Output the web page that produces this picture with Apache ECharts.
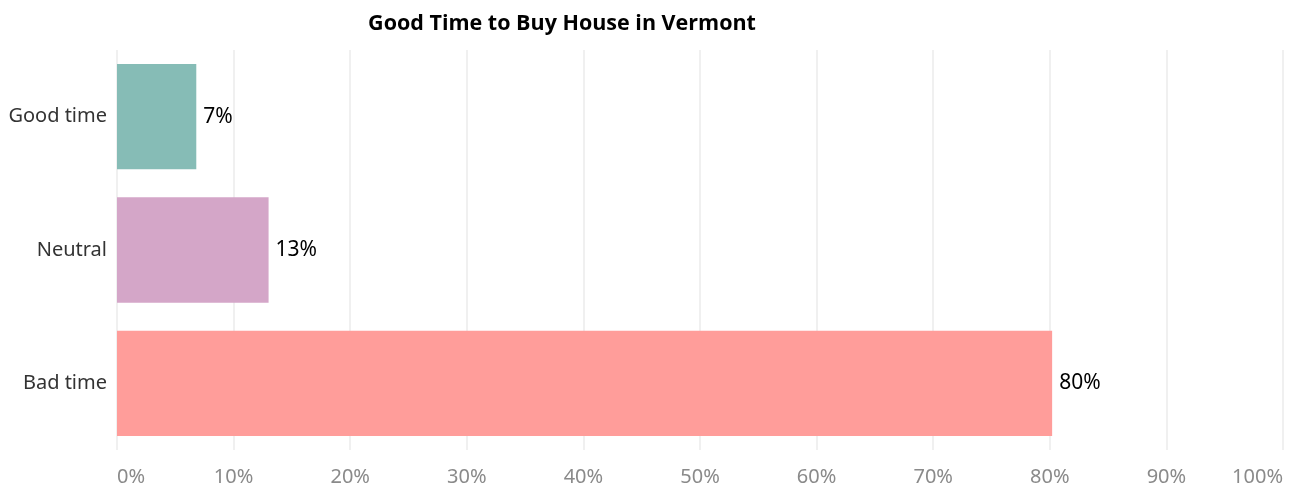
<!DOCTYPE html>
<html>
<head>
<meta charset="utf-8">
<script src="https://cdn.jsdelivr.net/npm/echarts@6/dist/echarts.min.js"></script>
<style>html,body{margin:0;padding:0;background:#fff;}#c{width:1295px;height:487px;}</style>
</head>
<body>
<div id="c"></div>
<script>
const categories = ['Good time', 'Neutral', 'Bad time'];
const values = [6.8, 13.0, 80.2];
const barColors = ['#86bcb6', '#d4a6c8', '#ff9d9a'];
const xTicks = [0, 10, 20, 30, 40, 50, 60, 70, 80, 90, 100];
const titleText = 'Good Time to Buy House in Vermont';

const chart = echarts.init(document.getElementById('c'), null, {renderer: 'canvas'});
chart.setOption({
  animation: false,
  backgroundColor: '#fff',
  title: {
    text: titleText,
    left: 557, top: 8, textAlign: 'center',
    textStyle: {fontFamily: 'Open Sans', fontWeight: 'bold', fontSize: 21.5, color: '#000'}
  },
  grid: {left: 117, right: 12, top: 50, bottom: 37, containLabel: false},
  xAxis: {
    type: 'value', min: xTicks[0], max: xTicks[xTicks.length - 1], interval: 10,
    axisLine: {show: false}, axisTick: {show: false},
    splitLine: {show: true, lineStyle: {color: '#ebebeb', width: 1.5}},
    axisLabel: {
      formatter: v => v + '%', color: '#8a8a8a', fontSize: 20, fontFamily: 'Noto Sans',
      margin: 17, alignMinLabel: 'left', alignMaxLabel: 'right'
    }
  },
  yAxis: {
    type: 'category', data: categories, inverse: true,
    axisLine: {show: false}, axisTick: {show: false},
    axisLabel: {color: '#333', fontSize: 20, fontFamily: 'Noto Sans', margin: 10, padding: [3, 0, 0, 0]}
  },
  series: [{
    type: 'bar',
    data: values.map((v, i) => ({value: v, itemStyle: {color: barColors[i]}})),
    barCategoryGap: '21%',
    label: {
      show: true, position: 'right', distance: 7,
      formatter: p => Math.round(p.value) + '%',
      color: '#000', fontSize: 21, fontFamily: 'Noto Sans'
    }
  }]
});
</script>
</body>
</html>
